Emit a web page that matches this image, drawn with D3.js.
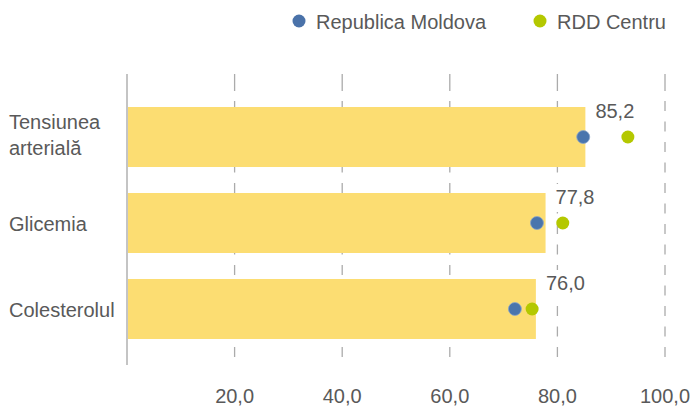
<!DOCTYPE html>
<html>
<head>
<meta charset="utf-8">
<script src="https://cdn.jsdelivr.net/npm/d3@7"></script>
<style>
  body { margin: 0; background: #fff; }
  text { font-family: "Liberation Sans", Arial, sans-serif; fill: #595959; }
</style>
</head>
<body>
<div id="chart"></div>
<script>
// data
const categories = ['Tensiunea arterială', 'Glicemia', 'Colesterolul'];
const barValues = [85.2, 77.8, 76.0];
const moldovaValues = [84.8, 76.2, 72.1];
const rddValues = [93.1, 81.0, 75.3];
const tickValues = [20, 40, 60, 80, 100];
const seriesNames = ['Republica Moldova', 'RDD Centru'];

const width = 693;
const height = 407;
const fontSize = 20;

const svg = d3.select('#chart')
  .append('svg')
  .attr('width', width)
  .attr('height', height);

// scales
const x = d3.scaleLinear().domain([0, 100]).range([127, 665]);
const y = d3.scaleBand()
  .domain(categories)
  .range([94, 352])
  .paddingInner(0.3023)
  .paddingOuter(0.1512);

const fmt = (v) => d3.format('.1f')(v).replace('.', ',');
const mid = (d) => y(d) + y.bandwidth() / 2;

// dashed gridlines (first dash longer, like the original)
const dash = [17, 10];
for (let i = 0; i < 20; i++) dash.push(10, 10.5);
svg.selectAll('.grid')
  .data(tickValues)
  .enter().append('line')
  .attr('class', 'grid')
  .attr('x1', (d) => x(d))
  .attr('x2', (d) => x(d))
  .attr('y1', 74)
  .attr('y2', 365)
  .attr('stroke', '#ababab')
  .attr('stroke-width', 1.3)
  .attr('stroke-dasharray', dash.join(','));

// vertical axis line at 0
svg.append('line')
  .attr('x1', x(0)).attr('x2', x(0))
  .attr('y1', 74).attr('y2', 365)
  .attr('stroke', '#b0b0b0')
  .attr('stroke-width', 1.5);

// bars
svg.selectAll('.bar')
  .data(categories)
  .enter().append('rect')
  .attr('class', 'bar')
  .attr('x', x(0) + 1)
  .attr('y', (d) => y(d))
  .attr('width', (d, i) => x(barValues[i]) - x(0) - 1)
  .attr('height', y.bandwidth())
  .attr('fill', '#fcdd72');

// value labels with white background
const labels = svg.selectAll('.vlabel')
  .data(categories)
  .enter().append('g')
  .attr('class', 'vlabel')
  .attr('transform', (d, i) => 'translate(' + (x(barValues[i]) + 10) + ',' + (mid(d) - 19) + ')');
labels.append('rect')
  .attr('x', -5).attr('y', -20)
  .attr('width', 50).attr('height', 28)
  .attr('fill', '#fff');
labels.append('text')
  .attr('font-size', fontSize)
  .text((d, i) => fmt(barValues[i]));

// dots
const dotR = 6.5;
svg.selectAll('.dot-md')
  .data(categories)
  .enter().append('circle')
  .attr('class', 'dot-md')
  .attr('cx', (d, i) => x(moldovaValues[i]))
  .attr('cy', mid)
  .attr('r', dotR)
  .attr('fill', '#4a75ad')
  .attr('stroke', '#8aa6cc')
  .attr('stroke-width', 0.8);

svg.selectAll('.dot-rdd')
  .data(categories)
  .enter().append('circle')
  .attr('class', 'dot-rdd')
  .attr('cx', (d, i) => x(rddValues[i]))
  .attr('cy', mid)
  .attr('r', dotR)
  .attr('fill', '#b4c800');

// category labels
const catLabels = svg.selectAll('.cat')
  .data(categories)
  .enter().append('text')
  .attr('class', 'cat')
  .attr('font-size', fontSize)
  .attr('x', 9)
  .attr('y', mid);
catLabels.each(function(d) {
  const words = d === 'Tensiunea arterială' ? ['Tensiunea', 'arterială'] : [d];
  const sel = d3.select(this);
  words.forEach((w, j) => {
    sel.append('tspan')
      .attr('x', 9)
      .attr('dy', j === 0 ? (words.length > 1 ? -8 : 8) : 26)
      .text(w);
  });
});

// tick labels
svg.selectAll('.tick-label')
  .data(tickValues)
  .enter().append('text')
  .attr('class', 'tick-label')
  .attr('font-size', fontSize)
  .attr('text-anchor', 'middle')
  .attr('x', (d) => x(d))
  .attr('y', 403)
  .text((d) => fmt(d));

// legend
const legendX = [299, 540];
const legendColors = ['#4a72a9', '#b4c800'];
const legend = svg.selectAll('.legend')
  .data(seriesNames)
  .enter().append('g')
  .attr('class', 'legend')
  .attr('transform', (d, i) => 'translate(' + legendX[i] + ',21)');
legend.append('circle')
  .attr('r', 6.5)
  .attr('fill', (d, i) => legendColors[i]);
legend.append('text')
  .attr('x', 17)
  .attr('y', 8)
  .attr('font-size', fontSize)
  .text((d) => d);
</script>
</body>
</html>
